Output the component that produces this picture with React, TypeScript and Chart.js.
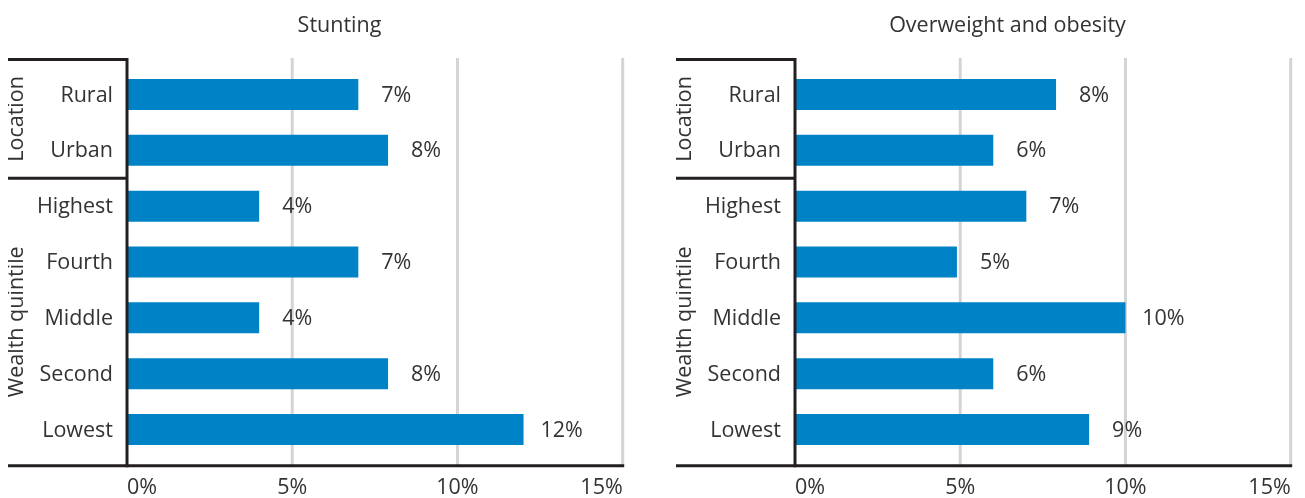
import React, { useEffect, useRef } from "react";
import { Chart, registerables } from "chart.js";

Chart.register(...registerables);

const categories = ["Rural", "Urban", "Highest", "Fourth", "Middle", "Second", "Lowest"];
const groupLabels = ["Location", "Wealth quintile"];
const groupSizes = [2, 5];
const stuntingValues = [7.0, 7.9, 4.0, 7.0, 4.0, 7.9, 12.0];
const overweightValues = [7.9, 6.0, 7.0, 4.9, 10.0, 6.0, 8.9];
const xTickValues = [0, 5, 10, 15];
const chartTitles = ["Stunting", "Overweight and obesity"];

const FONT = "'Open Sans', 'Noto Sans', sans-serif";
const FS = 21.5;
const TEXT = "#333333";
const BAR = "#0082c6";
const LINE = "#231f20";
const GRID = "#d4d4d6";

const decorPlugin = {
  id: "decor",
  afterLayout(chart: any) {
    // let the category labels extend left of the y-axis box without clipping
    chart.scales.y._computeLabelArea = () => undefined;
  },
  beforeDatasetsDraw(chart: any) {
    const { ctx, chartArea, scales } = chart;
    const xs = scales.x;
    const top = chartArea.top - 7;
    const bottom = chartArea.bottom + 8.3;
    ctx.save();
    ctx.strokeStyle = GRID;
    ctx.lineWidth = 3;
    for (const t of xTickValues) {
      if (t === 0) continue;
      const px = xs.getPixelForValue(t);
      ctx.beginPath();
      ctx.moveTo(px, top - 1.5);
      ctx.lineTo(px, bottom);
      ctx.stroke();
    }
    ctx.restore();
  },
  afterDatasetsDraw(chart: any) {
    const { ctx, chartArea, scales } = chart;
    const xs = scales.x;
    const ys = scales.y;
    const top = chartArea.top - 7;
    const bottom = chartArea.bottom + 8.3;
    const axisX = xs.getPixelForValue(0);
    ctx.save();
    // value labels
    const meta = chart.getDatasetMeta(0);
    const data = chart.data.datasets[0].data as number[];
    ctx.fillStyle = TEXT;
    ctx.font = `${FS}px ${FONT}`;
    ctx.textAlign = "center";
    ctx.textBaseline = "middle";
    meta.data.forEach((el: any, i: number) => {
      ctx.fillText(`${Math.round(data[i])}%`, el.x + 38, el.y + 1);
    });
    // lines
    ctx.strokeStyle = LINE;
    ctx.lineWidth = 3;
    ctx.lineCap = "butt";
    ctx.beginPath();
    ctx.moveTo(axisX, top - 1.5);
    ctx.lineTo(axisX, bottom + 1.5);
    ctx.stroke();
    ctx.beginPath();
    ctx.moveTo(0, bottom);
    ctx.lineTo(xs.getPixelForValue(15) + 1.5, bottom);
    ctx.stroke();
    // group brackets
    const bounds: number[] = [top];
    let idx = 0;
    groupSizes.forEach((n, g) => {
      idx += n;
      if (g < groupSizes.length - 1) {
        bounds.push((ys.getPixelForValue(idx - 1) + ys.getPixelForValue(idx)) / 2);
      }
    });
    bounds.push(bottom);
    for (let b = 0; b < bounds.length - 1; b++) {
      ctx.beginPath();
      ctx.moveTo(0, bounds[b]);
      ctx.lineTo(axisX, bounds[b]);
      ctx.stroke();
    }
    // group labels
    groupLabels.forEach((lab, g) => {
      const yc = (bounds[g] + bounds[g + 1]) / 2;
      ctx.save();
      ctx.translate(chartArea.left - 110, yc);
      ctx.rotate(-Math.PI / 2);
      ctx.fillStyle = TEXT;
      ctx.font = `${FS}px ${FONT}`;
      ctx.textAlign = "center";
      ctx.textBaseline = "middle";
      ctx.fillText(lab, 0, 0);
      ctx.restore();
    });
    ctx.restore();
  },
};

function BarPanel({ title, values }: { title: string; values: number[] }) {
  const ref = useRef<HTMLCanvasElement | null>(null);
  useEffect(() => {
    if (!ref.current) return;
    const chart = new Chart(ref.current, {
      type: "bar",
      data: {
        labels: categories,
        datasets: [
          {
            data: values,
            backgroundColor: BAR,
            borderWidth: 0,
            barPercentage: 0.555,
            categoryPercentage: 1.0,
          },
        ],
      },
      options: {
        indexAxis: "y",
        responsive: false,
        animation: false,
        maintainAspectRatio: false,
        layout: { padding: { left: 48.3, right: 6.3, top: 0, bottom: 0 } },
        plugins: {
          legend: { display: false },
          tooltip: { enabled: false },
          title: {
            display: true,
            text: title,
            color: TEXT,
            font: { family: FONT, size: FS, weight: "normal" },
            padding: { top: 12.6, bottom: 28.2 },
          },
        },
        scales: {
          x: {
            type: "linear",
            min: 0,
            max: 15,
            afterBuildTicks: (scale: any) => {
              scale.ticks = xTickValues.map((v) => ({ value: v }));
            },
            ticks: {
              callback: (v: any) => `${v}%`,
              align: "inner",
              padding: 0,
              color: TEXT,
              font: { family: FONT, size: FS, lineHeight: 0.9 },
              maxRotation: 0,
            },
            grid: {
              display: true,
              drawOnChartArea: false,
              drawTicks: true,
              tickLength: 21.25,
              color: "rgba(0,0,0,0)",
            },
            border: { display: false },
          },
          y: {
            type: "category",
            offset: true,
            afterFit: (scale: any) => {
              scale.width = 70.7;
            },
            ticks: {
              padding: 14,
              labelOffset: 1,
              color: TEXT,
              font: { family: FONT, size: FS },
            },
            grid: { display: false, drawTicks: false, tickLength: 0 },
            border: { display: false },
          },
        },
      },
      plugins: [decorPlugin],
    } as any);
    return () => chart.destroy();
  }, [title, values]);
  return <canvas ref={ref} width={621} height={498} style={{ display: "block" }} />;
}

export default function App() {
  return (
    <div
      style={{
        position: "absolute",
        left: 0,
        top: 0,
        width: 1305,
        height: 498,
        overflow: "hidden",
        background: "#ffffff",
      }}
    >
      <div style={{ position: "absolute", left: 8, top: 0 }}>
        <BarPanel title={chartTitles[0]} values={stuntingValues} />
      </div>
      <div style={{ position: "absolute", left: 676, top: 0 }}>
        <BarPanel title={chartTitles[1]} values={overweightValues} />
      </div>
    </div>
  );
}
